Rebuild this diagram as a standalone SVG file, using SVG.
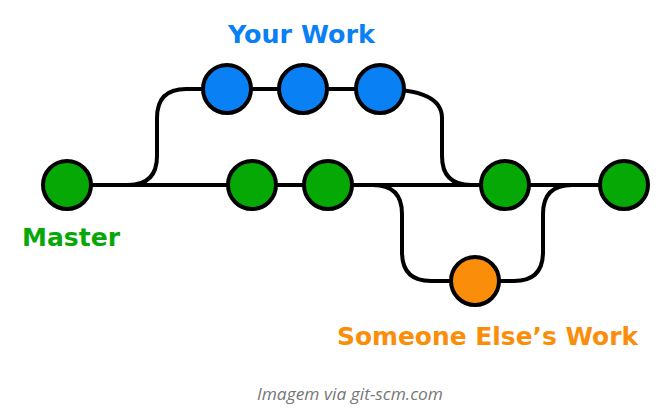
<svg xmlns="http://www.w3.org/2000/svg" width="671" height="411" viewBox="0 0 671 411">
<style>
.edge{fill:none;stroke:#000;stroke-width:4;stroke-linecap:round}
.n{stroke:#000;stroke-width:4}
.g{fill:#05a805}
.b{fill:#0a80f5}
.o{fill:#fa8e0a}
.lbl{font-family:"DejaVu Sans","Verdana",sans-serif;font-weight:bold;font-size:25px}
.cap{font-family:"Open Sans","Liberation Sans",sans-serif;font-style:italic;font-size:16px;fill:#777}
</style>
<rect width="671" height="411" fill="#fff"/>
<g id="connectors">
<path class="edge" d="M67 185 H624"/>
<path class="edge" d="M128 185 Q157 185 157 156 V118 Q157 89 186 89 H380 Q442 89 442 118 V156 Q442 185 471 185"/>
<path class="edge" d="M373 185 Q402 185 402 214 V252 Q402 281 431 281 H514 Q543 281 543 252 V214 Q543 185 572 185"/>
</g>
<g id="master"><circle class="n g" cx="67" cy="185" r="24"/></g>
<g id="m2"><circle class="n g" cx="252" cy="185" r="24"/></g>
<g id="m3"><circle class="n g" cx="328" cy="185" r="24"/></g>
<g id="m4"><circle class="n g" cx="505" cy="185" r="24"/></g>
<g id="m5"><circle class="n g" cx="624" cy="185" r="24"/></g>
<g id="b1"><circle class="n b" cx="227" cy="89" r="24"/></g>
<g id="b2"><circle class="n b" cx="303" cy="89" r="24"/></g>
<g id="b3"><circle class="n b" cx="380" cy="89" r="24"/></g>
<g id="o1"><circle class="n o" cx="475" cy="281" r="24"/></g>
<g id="labels">
<text class="lbl" x="228" y="43" fill="#0a80f5" textLength="147" lengthAdjust="spacingAndGlyphs">Your Work</text>
<text class="lbl" x="22" y="246" fill="#05a805" textLength="98" lengthAdjust="spacingAndGlyphs">Master</text>
<text class="lbl" x="337" y="345" fill="#fa8e0a" textLength="301" lengthAdjust="spacingAndGlyphs">Someone Else’s Work</text>
<text class="cap" x="257" y="400" textLength="186" lengthAdjust="spacingAndGlyphs">Imagem via git-scm.com</text>
</g>
</svg>
